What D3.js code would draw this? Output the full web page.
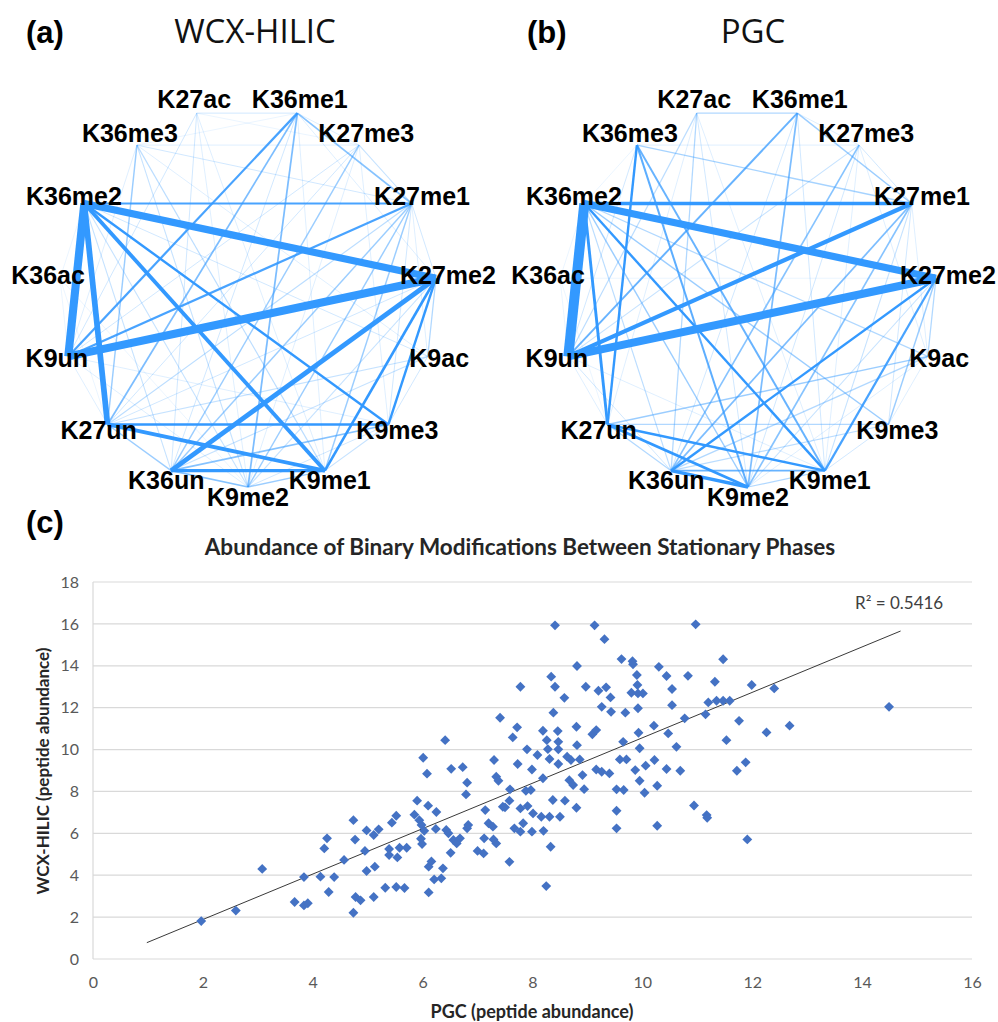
<!DOCTYPE html>
<html>
<head>
<meta charset="utf-8">
<script src="https://cdn.jsdelivr.net/npm/d3@7"></script>
<style>
  body { margin: 0; background: #fff; }
</style>
</head>
<body>
<div id="chart"></div>
<script>
// modifications, clockwise round the circle starting top-left
var nodes = ["K27ac", "K36me1", "K27me3", "K27me1", "K27me2", "K9ac", "K9me3",
  "K9me1", "K9me2", "K36un", "K27un", "K9un", "K36ac", "K36me2", "K36me3"];

// [from, to, weight]  (a) WCX-HILIC
var edgesWcx = [
  ["K36me2", "K9un", 8], ["K36me2", "K27me2", 7], ["K9un", "K27me2", 8],
  ["K36me2", "K27un", 5.5], ["K27me2", "K36un", 4.5], ["K36me2", "K9me1", 3.5],
  ["K27un", "K9me1", 3.5], ["K36un", "K9me1", 3], ["K36me2", "K9me3", 2],
  ["K27un", "K9me3", 2], ["K36me2", "K27me1", 1.8], ["K27me2", "K9me1", 2.2],
  ["K27me2", "K9me3", 2], ["K36me1", "K9un", 1.8], ["K27me1", "K9un", 1.8],
  ["K36me1", "K27un", 1.3], ["K36me1", "K9me2", 1.3], ["K36me1", "K27me1", 1.2],
  ["K27me3", "K36un", 1], ["K27me1", "K36un", 1], ["K27me1", "K9me2", 1],
  ["K27me1", "K9me1", 1], ["K9me3", "K36un", 1.2], ["K36me3", "K27un", 1],
  ["K27un", "K36un", 1], ["K36un", "K9me2", 1.2], ["K9me2", "K9me1", 1],
  ["K27me2", "K9ac", 0.8], ["K27ac", "K36me1", 0.5], ["K27ac", "K9un", 0.5],
  ["K27ac", "K36un", 0.5], ["K27ac", "K9me2", 0.4], ["K27ac", "K9me1", 0.4],
  ["K27ac", "K27me3", 0.3], ["K36me3", "K27me3", 0.4], ["K36me3", "K27me1", 0.5],
  ["K36me3", "K9me1", 0.7], ["K36me3", "K9me2", 0.6], ["K36me3", "K9ac", 0.4],
  ["K36me3", "K9un", 0.4], ["K36me1", "K27me3", 0.4], ["K27me3", "K27me1", 0.6],
  ["K27me3", "K9un", 0.5], ["K27me3", "K27un", 0.5], ["K27me3", "K9me2", 0.4],
  ["K27me3", "K9me3", 0.4], ["K27me1", "K27me2", 0.5], ["K27me1", "K9ac", 0.4],
  ["K27me1", "K9me3", 0.5], ["K27me1", "K27un", 0.7], ["K27me2", "K9me2", 0.6],
  ["K27me2", "K27un", 0.5], ["K9ac", "K9me3", 0.5], ["K9ac", "K36un", 0.6],
  ["K9ac", "K27un", 0.6], ["K9ac", "K36me2", 0.5], ["K9me3", "K9me1", 0.6],
  ["K9me3", "K9me2", 0.5], ["K27un", "K9un", 0.4], ["K9un", "K36ac", 0.3],
  ["K36ac", "K36me2", 0.3], ["K36ac", "K27un", 0.3], ["K36ac", "K9me2", 0.3],
  ["K36me2", "K36un", 0.6], ["K36me2", "K9me2", 0.6], ["K9un", "K9me2", 0.4],
  ["K9un", "K9me3", 0.4], ["K36me1", "K36un", 0.5], ["K36me1", "K9me1", 0.4],
  ["K36me1", "K27me2", 0.4], ["K36me1", "K36me3", 0.3]
];

// (b) PGC
var edgesPgc = [
  ["K36me2", "K9un", 10], ["K36me2", "K27me2", 7], ["K9un", "K27me2", 8],
  ["K9un", "K27me1", 4], ["K36me2", "K27me1", 3], ["K36me2", "K27un", 2.5],
  ["K27me2", "K36un", 2], ["K36me2", "K9me1", 2], ["K27un", "K9me1", 2],
  ["K27un", "K9me2", 2.5], ["K36un", "K9me2", 3], ["K36un", "K9me1", 1.5],
  ["K36me3", "K27un", 2], ["K36me3", "K9me2", 1.6], ["K36me3", "K9me1", 1.5],
  ["K36me1", "K9un", 1.5], ["K36me1", "K9me2", 1.3], ["K36me1", "K27me1", 1],
  ["K36me3", "K27me1", 0.9], ["K27me2", "K9me1", 1.8], ["K27me1", "K36un", 1.3],
  ["K27me1", "K9me2", 1.2], ["K27me3", "K36un", 1.2], ["K9ac", "K27un", 1],
  ["K9ac", "K36un", 0.8], ["K27un", "K9me3", 0.8], ["K9me3", "K36un", 0.7],
  ["K36me2", "K9me3", 1], ["K36me2", "K9ac", 0.8], ["K36me2", "K9me2", 1],
  ["K36me2", "K36un", 0.7], ["K27me2", "K9me3", 1], ["K27me2", "K9ac", 0.8],
  ["K27ac", "K36me1", 0.8], ["K27ac", "K36un", 0.8], ["K27ac", "K9un", 0.7],
  ["K27ac", "K9me2", 0.5], ["K27ac", "K9me1", 0.4], ["K27ac", "K27un", 0.4],
  ["K36me3", "K27me3", 0.4], ["K36me3", "K9un", 0.5], ["K36me3", "K36me2", 0.3],
  ["K36me1", "K27me3", 0.4], ["K36me1", "K36un", 0.5], ["K36me1", "K9me1", 0.5],
  ["K27me3", "K27me1", 0.5], ["K27me3", "K9un", 0.6], ["K27me3", "K9me2", 0.5],
  ["K27me3", "K9me1", 0.4], ["K27me3", "K9ac", 0.4], ["K27me1", "K9me1", 0.6],
  ["K27me1", "K9me3", 0.5], ["K27me1", "K9ac", 0.4], ["K27me2", "K9me2", 0.6],
  ["K27me2", "K36ac", 0.3], ["K9ac", "K9me3", 0.4], ["K9ac", "K9me2", 0.4],
  ["K9me3", "K9me1", 0.5], ["K9me1", "K9me2", 0.8], ["K27un", "K36un", 0.8],
  ["K27un", "K9un", 0.4], ["K9un", "K36ac", 0.3], ["K36ac", "K27un", 0.3],
  ["K36ac", "K36me2", 0.3], ["K9un", "K9me1", 0.4], ["K9un", "K36un", 0.5]
];

// (c) peptide abundance, PGC (x) vs WCX-HILIC (y)
var pgc = [1.97, 2.6, 3.08, 3.67, 3.84, 3.91, 3.84, 4.14, 4.21, 4.26, 4.29, 4.39, 4.57, 4.74, 4.77,
  4.74, 4.78, 4.87, 4.95, 4.98, 4.98, 5.11, 5.13, 5.11, 5.2, 5.32, 5.39, 5.39, 5.44, 5.52,
  5.52, 5.54, 5.58, 5.67, 5.71, 5.9, 5.85, 5.94, 5.98, 6.03, 5.97, 5.99, 6.01, 6.08, 6.1,
  6.11, 6.16, 6.11, 6.21, 6.24, 6.25, 6.34, 6.37, 6.41, 6.43, 6.47, 6.51, 6.52, 6.56, 6.62,
  6.68, 6.73, 6.79, 6.81, 6.81, 6.83, 7.0,
  7.11, 7.14, 7.12, 7.2, 7.28, 7.34, 7.29, 7.41, 7.3, 7.34, 7.38, 7.46, 7.5, 7.58, 7.59,
  7.58, 7.64, 7.67, 7.72, 7.73, 7.78, 7.78, 7.78, 7.83, 7.88, 7.9, 7.91, 7.97, 7.99, 7.99,
  8.01, 8.09, 8.16, 8.19, 8.2, 8.19, 8.25, 8.26, 8.28, 8.31, 8.31, 8.33, 8.34, 8.37, 8.38,
  8.41, 8.41, 8.46, 8.47, 8.47, 8.5, 8.47, 8.58, 8.59, 8.63, 8.67, 8.7, 8.74, 8.8, 8.81,
  8.81, 8.8, 8.86, 8.91, 8.94, 8.97, 9.09, 9.13, 9.16, 9.16, 9.2, 9.26, 9.26, 9.31, 9.34,
  9.4, 9.42, 9.43, 9.53, 9.53, 9.53, 9.59, 9.62, 9.65, 9.66, 9.69, 9.71, 9.8, 9.82, 9.83,
  9.87, 9.9, 9.91, 9.92, 9.92, 9.93, 9.95, 9.95, 10.01, 10.04, 10.06, 10.21, 10.22, 10.27, 10.27,
  10.3, 10.44, 10.44, 10.47, 10.54, 10.54, 10.62, 10.69, 10.77, 10.83, 10.94, 10.97, 11.15, 11.17, 11.18,
  11.2, 11.32, 11.35, 11.47, 11.47, 11.53, 11.59, 11.72, 11.76, 11.88, 11.91, 11.99, 12.26, 12.4, 12.68,
  14.49];
var wcx = [1.81, 2.31, 4.3, 2.72, 2.56, 2.66, 3.91, 3.93, 5.28, 5.76, 3.2, 3.91, 4.73, 6.63, 5.7,
  2.21, 2.96, 2.8, 5.16, 4.2, 6.14, 5.92, 4.41, 2.96, 6.19, 3.4, 5.25, 4.96, 6.51, 6.84,
  3.44, 4.85, 5.31, 3.39, 5.31, 7.56, 6.89, 6.63, 6.4, 6.12, 5.74, 5.49, 9.61, 8.85, 7.32,
  4.41, 4.66, 3.18, 3.8, 6.21, 7.02, 3.85, 4.33, 10.45, 6.16, 6.0, 5.07, 9.08, 5.68, 5.52,
  5.76, 9.16, 7.86, 8.42, 6.24, 6.4, 5.16,
  5.04, 7.11, 5.76, 6.48, 6.32, 5.52, 5.71, 11.52, 9.5, 8.7, 8.51, 7.27, 7.24, 4.64, 8.1,
  7.56, 10.58, 6.24, 11.06, 9.31, 13.0, 7.19, 6.08, 6.48, 8.03, 10.01, 7.3, 8.07, 9.05, 6.08,
  6.95, 9.74, 6.79, 8.63, 6.12, 10.9, 3.48, 10.45, 10.02, 9.55, 6.79, 5.36, 13.48, 7.59, 11.76,
  13.0, 15.93, 10.88, 10.37, 9.31, 6.79, 10.01, 12.47, 7.56, 9.66, 8.54, 9.5, 8.31, 11.09, 13.99,
  10.21, 7.22, 9.53, 8.78, 8.11, 13.0, 10.73, 15.93, 10.93, 9.05, 12.81, 12.04, 8.94, 15.27, 12.97,
  8.86, 12.49, 11.8, 8.1, 7.08, 6.24, 9.53, 14.32, 10.37, 8.07, 11.76, 9.53, 12.71, 14.22, 14.07,
  9.02, 13.56, 13.08, 12.68, 11.97, 10.8, 10.06, 8.51, 12.68, 7.94, 9.23, 11.14, 9.5, 8.27, 6.36,
  13.95, 13.51, 9.07, 10.77, 12.89, 12.12, 10.13, 8.99, 11.49, 13.52, 7.33, 15.98, 11.68, 6.87, 6.74,
  12.25, 13.24, 12.33, 14.31, 12.33, 10.45, 12.33, 8.99, 11.37, 9.39, 5.71, 13.08, 10.82, 12.92, 11.14,
  12.04];

var xTicks = [0, 2, 4, 6, 8, 10, 12, 14, 16];
var yTicks = [0, 2, 4, 6, 8, 10, 12, 14, 16, 18];

// linear trend line (Excel)
var trendX = [0.98, 14.7];
var trendSlope = 1.0845;
var trendIntercept = -0.283;
var rSquared = "R\u00b2 = 0.5416";

var w = 998;
var h = 1022;

var svg = d3
  .select("#chart")
  .append("svg")
  .attr("width", w)
  .attr("height", h)
  .style("background", "#fff");

//panel titles
function panelTag(txt, x, y) {
  svg
    .append("text")
    .text(txt)
    .attr("x", x)
    .attr("y", y)
    .attr("font-family", "Liberation Sans, Arial, sans-serif")
    .attr("font-weight", "bold")
    .attr("font-size", "31px")
    .attr("fill", "#000");
}
panelTag("(a)", 26, 43);
panelTag("(b)", 527, 43);

svg
  .append("text")
  .text("WCX-HILIC")
  .attr("x", 255)
  .attr("y", 43)
  .attr("text-anchor", "middle")
  .attr("font-family", "Open Sans, sans-serif")
  .attr("font-size", "33px")
  .attr("fill", "#111");
svg
  .append("text")
  .text("PGC")
  .attr("x", 753)
  .attr("y", 43)
  .attr("text-anchor", "middle")
  .attr("font-family", "Open Sans, sans-serif")
  .attr("font-size", "33px")
  .attr("fill", "#111");

//network layout
var angle = d3
  .scaleLinear()
  .domain([0, nodes.length])
  .range([-102, 258]);
var nodeR = 189;
var labelR = 201;
var nudge = { K27ac: -12, K36me1: 10 }; // top pair pushed apart

var widthScale = d3.scaleLinear().domain([0, 10]).range([0.5, 10]);
var alphaScale = d3
  .scaleLinear()
  .domain([0.3, 2])
  .range([0.13, 1])
  .clamp(true);

function place(name, r, cx, cy) {
  var a = (angle(nodes.indexOf(name)) * Math.PI) / 180;
  return [cx + r * Math.cos(a) + (nudge[name] || 0), cy + r * Math.sin(a)];
}

function drawNetwork(edges, cx, cy) {
  var g = svg.append("g");
  var sorted = edges.slice().sort(function(a, b) {
    return a[2] - b[2];
  });
  g.selectAll("line")
    .data(sorted)
    .enter()
    .append("line")
    .attr("x1", function(d) { return place(d[0], nodeR, cx, cy)[0]; })
    .attr("y1", function(d) { return place(d[0], nodeR, cx, cy)[1]; })
    .attr("x2", function(d) { return place(d[1], nodeR, cx, cy)[0]; })
    .attr("y2", function(d) { return place(d[1], nodeR, cx, cy)[1]; })
    .attr("stroke", "#3399ff")
    .attr("stroke-opacity", function(d) { return alphaScale(d[2]); })
    .attr("stroke-width", function(d) { return widthScale(d[2]); });

  g.selectAll("text")
    .data(nodes)
    .enter()
    .append("text")
    .text(function(d) { return d; })
    .attr("x", function(d) { return place(d, labelR, cx, cy - 2)[0]; })
    .attr("y", function(d) { return place(d, labelR, cx, cy - 2)[1] + 9; })
    .attr("text-anchor", "middle")
    .attr("font-family", "Liberation Sans, Arial, sans-serif")
    .attr("font-weight", "bold")
    .attr("font-size", "25px")
    .attr("fill", "#000");
}

drawNetwork(edgesWcx, 248, 298);
drawNetwork(edgesPgc, 748, 298);

//scatter (c)
panelTag("(c)", 26, 533);

var xScale = d3.scaleLinear().domain([0, 16]).range([93, 972]);
var yScale = d3.scaleLinear().domain([0, 18]).range([959, 582]);

var plot = svg.append("g");

plot
  .selectAll("line.grid")
  .data(yTicks)
  .enter()
  .append("line")
  .attr("class", "grid")
  .attr("x1", xScale(0))
  .attr("x2", xScale(16))
  .attr("y1", function(d) { return yScale(d); })
  .attr("y2", function(d) { return yScale(d); })
  .attr("stroke", "#d9d9d9")
  .attr("stroke-width", 1.2);

plot
  .append("line")
  .attr("x1", xScale(0))
  .attr("x2", xScale(0))
  .attr("y1", yScale(0))
  .attr("y2", yScale(18))
  .attr("stroke", "#d9d9d9")
  .attr("stroke-width", 1.2);

var yAxis = d3.axisLeft(yScale).tickValues(yTicks).tickSize(0).tickPadding(14);
var xAxis = d3.axisBottom(xScale).tickValues(xTicks).tickSize(0).tickPadding(18);

var ya = plot.append("g").attr("transform", "translate(" + xScale(0) + ",0)").call(yAxis);
var xa = plot.append("g").attr("transform", "translate(0," + yScale(0) + ")").call(xAxis);
[ya, xa].forEach(function(a) {
  a.select(".domain").remove();
  a.selectAll("text")
    .attr("font-family", "Lato, sans-serif")
    .attr("font-size", "16px")
    .attr("fill", "#595959");
});

//trend line
plot
  .append("line")
  .attr("x1", xScale(trendX[0]))
  .attr("y1", yScale(trendSlope * trendX[0] + trendIntercept))
  .attr("x2", xScale(trendX[1]))
  .attr("y2", yScale(trendSlope * trendX[1] + trendIntercept))
  .attr("stroke", "#222")
  .attr("stroke-width", 0.9);

//points
var diamond = d3.symbol().type(d3.symbolDiamond2).size(62);
plot
  .selectAll("path.pt")
  .data(pgc)
  .enter()
  .append("path")
  .attr("class", "pt")
  .attr("d", diamond)
  .attr("transform", function(d, i) {
    return "translate(" + xScale(d) + "," + yScale(wcx[i]) + ")";
  })
  .attr("fill", "#4472c4");

plot
  .append("text")
  .text(rSquared)
  .attr("x", 855)
  .attr("y", 609)
  .attr("font-family", "Lato, sans-serif")
  .attr("font-size", "17px")
  .attr("fill", "#404040");

svg
  .append("text")
  .text("Abundance of Binary Modifications Between Stationary Phases")
  .attr("x", 520)
  .attr("y", 555)
  .attr("text-anchor", "middle")
  .attr("font-family", "Lato, sans-serif")
  .attr("font-weight", "bold")
  .attr("font-size", "22.5px")
  .attr("fill", "#262626");

svg
  .append("text")
  .text("PGC (peptide abundance)")
  .attr("x", 532)
  .attr("y", 1018)
  .attr("text-anchor", "middle")
  .attr("font-family", "Lato, sans-serif")
  .attr("font-weight", "bold")
  .attr("font-size", "18px")
  .attr("fill", "#262626");

svg
  .append("text")
  .text("WCX-HILIC (peptide abundance)")
  .attr("transform", "translate(49,771) rotate(-90)")
  .attr("text-anchor", "middle")
  .attr("font-family", "Lato, sans-serif")
  .attr("font-weight", "bold")
  .attr("font-size", "17px")
  .attr("fill", "#262626");
</script>
</body>
</html>
